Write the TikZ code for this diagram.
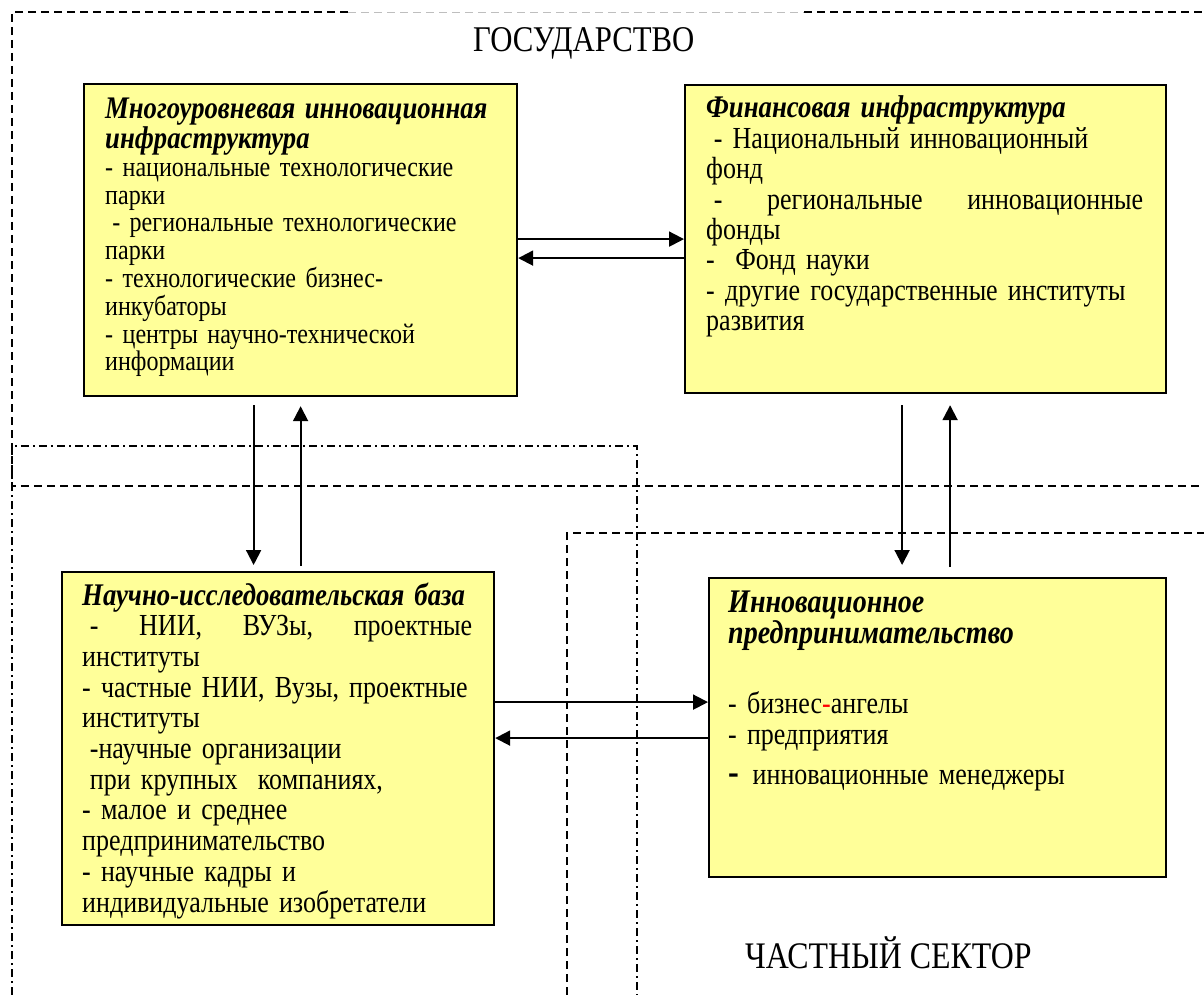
\documentclass[tikz,border=0pt]{standalone}
\usepackage{fontspec}
\setmainfont{Liberation Serif}[FakeStretch=0.85]
\usetikzlibrary{arrows.meta,calc,positioning}
\definecolor{boxfill}{RGB}{255,255,153}
\definecolor{lightdash}{RGB}{190,190,190}
\newcommand{\lead}{\hspace*{0.25em}}
\newcommand{\headline}[2][31.4]{{\fontsize{#1}{\baselineskip}\selectfont\bfseries\itshape #2}}
\newcommand{\fullline}[1]{\leavevmode\hbox to\hsize{#1}}

\begin{document}
\begin{tikzpicture}[x=1pt, y=-1pt,
    box/.style={draw, line width=2.2pt, fill=boxfill, anchor=north west, inner sep=0pt},
    boxtext/.style={anchor=base west, align=left, inner sep=0pt},
    link/.style={line width=2pt, -{Triangle[length=15pt,width=15pt]}},
    zone/.style={line width=1.3pt, dash pattern=on 8pt off 5pt},
    zonedot/.style={line width=1.3pt, dash pattern=on 8pt off 4pt on 2pt off 4pt},
    sector/.style={anchor=base west, inner sep=0pt}]
    \useasboundingbox (0,0) rectangle (1204,995);
    % zones
    \draw[zone] (348,12) -- (12,12) -- (12,486) -- (1204,486);
    \draw[zone, lightdash, line width=0.9pt] (348,12) -- (804,12);
    \draw[zone] (804,12) -- (1204,12);
    \draw[zonedot] (12,995) -- (12,446) -- (637,446) -- (637,995);
    \draw[zone] (567,995) -- (567,533) -- (1204,533);
    \node[sector, font=\fontsize{36.2}{40}\selectfont] (state) at (473,52) {ГОСУДАРСТВО};
    \node[sector, font=\fontsize{37.5}{40}\selectfont] (private) at (745,968) {ЧАСТНЫЙ СЕКТОР};
    % boxes
    \node[box, minimum width=433pt, minimum height=312pt] (infra) at (83,83) {};
    \node[boxtext, text width=400pt, font=\fontsize{28.3}{27.8}\selectfont] (infratext)
        at ($(infra.north west)+(22pt,-36pt)$) {%
        \headline{Многоуровневая инновационная}\\
        \headline{инфраструктура}\\
        - национальные технологические\\
        парки\\
        \lead- региональные технологические\\
        парки\\
        - технологические бизнес-\\
        инкубаторы\\
        - центры научно-технической\\
        информации};
    \node[box, minimum width=481pt, minimum height=308pt] (fin) at (684,84) {};
    \node[boxtext, text width=437pt, font=\fontsize{30.6}{30.4}\selectfont] (fintext)
        at ($(fin.north west)+(22pt,-34pt)$) {%
        \headline[31.5]{Финансовая инфраструктура}\\
        \lead- Национальный инновационный\\
        фонд\\
        \fullline{\lead-\hfill региональные\hfill инновационные}\\
        фонды\\
        -\ \ Фонд науки\\
        - другие государственные институты\\
        развития};
    \node[box, minimum width=432pt, minimum height=353pt] (sci) at (61,571) {};
    \node[boxtext, text width=390pt, font=\fontsize{30.6}{30.7}\selectfont] (scitext)
        at ($(sci.north west)+(21pt,-34pt)$) {%
        \headline[31.5]{Научно-исследовательская база}\\
        \fullline{\lead-\hfill НИИ,\hfill ВУЗы,\hfill проектные}\\
        институты\\
        \fullline{- частные НИИ, Вузы, проектные}\\
        институты\\
        \lead-научные организации\\
        \lead при крупных\ \ компаниях,\\
        - малое и среднее\\
        предпринимательство\\
        - научные кадры и\\
        индивидуальные изобретатели};
    \node[box, minimum width=457pt, minimum height=299pt] (innov) at (708,577) {};
    \node[boxtext, text width=420pt, font=\fontsize{30.6}{31}\selectfont] (innovtext)
        at ($(innov.north west)+(20pt,-35pt)$) {%
        \headline[33]{Инновационное}\\
        \headline[33]{предпринимательство}\\[39pt]
        - бизнес{\color{red}-}ангелы\\
        - предприятия\\[9pt]
        {\fontsize{38}{31}\selectfont\bfseries -}\hspace{0.45em}инновационные менеджеры};
    % links
    \draw[link] ($(infra.east)+(0,1pt)$) -- ($(infra.east -| fin.west)+(0,1pt)$);
    \draw[link] ($(infra.east -| fin.west)+(0,-18pt)$) -- ($(infra.east)+(0,-18pt)$);
    \draw[link] ($(infra.south)+(-47pt,-8pt)$) -- ($(infra.south |- sci.north)+(-47pt,6pt)$);
    \draw[link] ($(infra.south |- sci.north)+(0,5pt)$) -- ($(infra.south)+(0,-9pt)$);
    \draw[link] ($(fin.south)+(-23.5pt,-11pt)$) -- ($(fin.south |- innov.north)+(-23.5pt,12pt)$);
    \draw[link] ($(fin.south |- innov.north)+(24.5pt,10pt)$) -- ($(fin.south)+(24.5pt,-11pt)$);
    \draw[link] ($(innov.west -| sci.east)+(0,25.5pt)$) -- ($(innov.west)+(0,25.5pt)$);
    \draw[link] ($(innov.west)+(0,-10.5pt)$) -- ($(innov.west -| sci.east)+(0,-10.5pt)$);
\end{tikzpicture}
\end{document}
